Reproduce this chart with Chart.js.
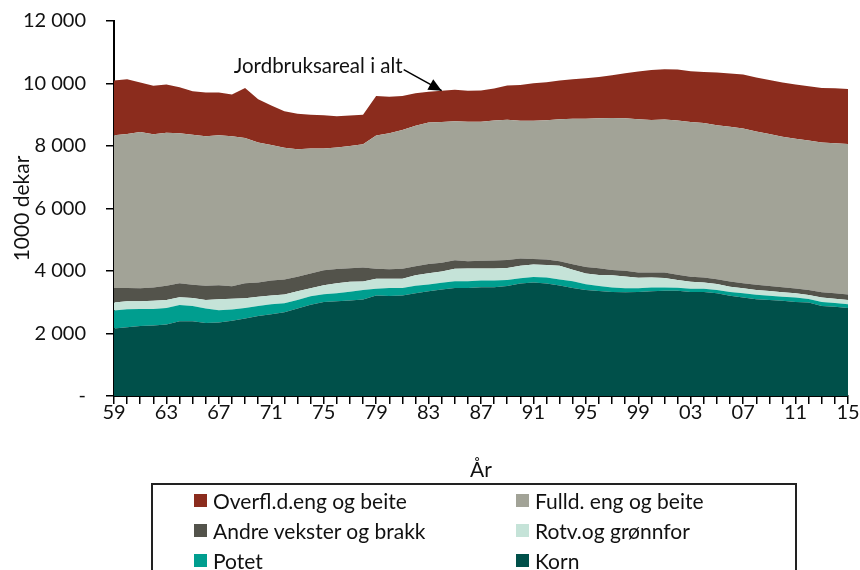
<!DOCTYPE html>
<html lang="no">
<head>
    <meta charset="UTF-8">
    <title>Jordbruksareal</title>
    <script src="https://cdn.jsdelivr.net/npm/chart.js"></script>
    <style>
        body {
            margin: 0;
            background: #ffffff;
            font-family: 'Lato', sans-serif;
        }

        .wrap {
            position: relative;
            width: 860px;
            height: 570px;
            overflow: hidden;
        }

        .legend {
            position: absolute;
            left: 151px;
            top: 483px;
            width: 646px;
            height: 120px;
            border: 2px solid #222;
            display: grid;
            grid-template-columns: 322px 320px;
            grid-auto-rows: 30px;
            padding-left: 41px;
            box-sizing: border-box;
        }

        .legend div {
            display: flex;
            align-items: center;
            font-size: 21px;
            color: #111;
        }

        .legend span {
            display: inline-block;
            width: 13px;
            height: 13px;
            margin-right: 6px;
        }
    </style>
</head>
<body>
    <div class="wrap">
        <canvas id="areaChart" width="860" height="570"></canvas>
        <div class="legend" id="legend"></div>
    </div>

    <script>
        const years = [];
        for (let y = 1959; y <= 2015; y++) years.push(y);

        const korn = [2160, 2200, 2240, 2260, 2290, 2390, 2390, 2340, 2350, 2410,
            2480, 2560, 2620, 2680, 2800, 2920, 3010, 3030, 3060, 3090,
            3220, 3200, 3220, 3290, 3350, 3410, 3460, 3460, 3480, 3480,
            3520, 3600, 3630, 3600, 3540, 3460, 3390, 3360, 3330, 3320,
            3330, 3350, 3370, 3370, 3330, 3330, 3290, 3210, 3150, 3100,
            3070, 3050, 3010, 2990, 2880, 2860, 2820];
        const potet = [575, 575, 545, 525, 525, 525, 490, 460, 395, 360,
            340, 320, 320, 290, 275, 275, 245, 255, 280, 300,
            215, 255, 235, 235, 215, 215, 215, 215, 215, 215,
            190, 170, 180, 190, 190, 215, 190, 160, 140, 130,
            115, 120, 105, 95, 105, 105, 105, 115, 140, 140,
            140, 130, 140, 115, 130, 115, 115];
        const rotv = [255, 255, 245, 265, 255, 245, 255, 275, 350, 340,
            310, 300, 275, 280, 275, 255, 290, 320, 320, 275,
            320, 300, 300, 340, 360, 360, 395, 405, 385, 385,
            385, 395, 395, 405, 440, 365, 340, 350, 395, 375,
            340, 320, 300, 245, 225, 200, 190, 170, 160, 150,
            150, 140, 140, 130, 140, 140, 140];
        const andre = [470, 425, 415, 425, 460, 450, 425, 450, 450, 405,
            480, 450, 480, 480, 470, 470, 480, 460, 425, 450,
            320, 300, 320, 290, 300, 280, 275, 235, 245, 255,
            255, 235, 180, 170, 140, 180, 205, 220, 170, 180,
            170, 160, 180, 170, 160, 160, 150, 170, 160, 170,
            160, 160, 150, 160, 170, 170, 170];
        const fulld = [4885, 4930, 5005, 4905, 4895, 4800, 4800, 4790, 4800, 4800,
            4650, 4480, 4340, 4215, 4075, 4000, 3895, 3885, 3915, 3945,
            4265, 4350, 4435, 4490, 4525, 4500, 4450, 4460, 4450, 4480,
            4490, 4405, 4425, 4460, 4545, 4650, 4745, 4795, 4865, 4885,
            4905, 4885, 4895, 4940, 4950, 4940, 4930, 4950, 4950, 4905,
            4865, 4820, 4790, 4780, 4790, 4800, 4820];
        const overfl = [1750, 1750, 1580, 1545, 1545, 1470, 1395, 1400, 1365, 1335,
            1600, 1385, 1260, 1165, 1140, 1080, 1065, 1000, 980, 940,
            1260, 1175, 1090, 1045, 990, 1005, 1005, 990, 1005, 1025,
            1100, 1150, 1195, 1215, 1240, 1270, 1300, 1325, 1365, 1440,
            1525, 1600, 1610, 1630, 1620, 1630, 1685, 1705, 1730, 1730,
            1730, 1730, 1740, 1740, 1750, 1760, 1760];

        const yTicks = [0, 2000, 4000, 6000, 8000, 10000, 12000];
        const noteText = 'Jordbruksareal i alt';
        const noteYear = 1984;

        // bottom to top
        const series = [
            { label: 'Korn', data: korn, color: '#00504a' },
            { label: 'Potet', data: potet, color: '#009e8f' },
            { label: 'Rotv.og grønnfor', data: rotv, color: '#c5e3d8' },
            { label: 'Andre vekster og brakk', data: andre, color: '#53534b' },
            { label: 'Fulld. eng og beite', data: fulld, color: '#a2a397' },
            { label: 'Overfl.d.eng og beite', data: overfl, color: '#8b2c1d' }
        ];

        const fmt = v => v === 0 ? '-' : String(v).replace(/\B(?=(\d{3})+(?!\d))/g, ' ');

        // arrow + text pointing at the total
        const notePlugin = {
            id: 'note',
            afterDatasetsDraw(chart) {
                const ctx = chart.ctx;
                const i = years.indexOf(noteYear);
                const total = series.reduce((s, d) => s + d.data[i], 0);
                const tx = chart.scales.x.getPixelForValue(i);
                const ty = chart.scales.y.getPixelForValue(total);
                const sx = tx - 38, sy = ty - 21;
                ctx.save();
                ctx.strokeStyle = '#000';
                ctx.fillStyle = '#000';
                ctx.lineWidth = 1.5;
                ctx.beginPath();
                ctx.moveTo(sx, sy);
                ctx.lineTo(tx, ty);
                ctx.stroke();
                const a = Math.atan2(ty - sy, tx - sx);
                ctx.beginPath();
                ctx.moveTo(tx, ty);
                ctx.lineTo(tx - 13 * Math.cos(a) + 6 * Math.sin(a), ty - 13 * Math.sin(a) - 6 * Math.cos(a));
                ctx.lineTo(tx - 13 * Math.cos(a) - 6 * Math.sin(a), ty - 13 * Math.sin(a) + 6 * Math.cos(a));
                ctx.closePath();
                ctx.fill();
                ctx.font = '20.5px Lato';
                ctx.textAlign = 'right';
                ctx.textBaseline = 'middle';
                ctx.fillStyle = '#111';
                ctx.fillText(noteText, sx - 1, sy - 3);
                ctx.restore();
            }
        };

        const ctx = document.getElementById('areaChart').getContext('2d');
        new Chart(ctx, {
            type: 'line',
            data: {
                labels: years,
                datasets: series.map((s, k) => ({
                    label: s.label,
                    data: s.data,
                    backgroundColor: s.color,
                    borderWidth: 0,
                    pointRadius: 0,
                    fill: k === 0 ? 'origin' : '-1'
                }))
            },
            options: {
                responsive: false,
                animation: false,
                layout: { padding: { left: 0, right: 12, top: 21, bottom: 87 } },
                plugins: {
                    legend: { display: false },
                    tooltip: { enabled: false }
                },
                scales: {
                    x: {
                        offset: false,
                        grid: { drawOnChartArea: false, color: '#000', tickLength: 8, lineWidth: 1.5 },
                        border: { color: '#000', width: 2 },
                        ticks: {
                            autoSkip: false,
                            maxRotation: 0,
                            padding: -3,
                            color: '#111',
                            font: { family: 'Lato', size: 20 },
                            callback: (v, i) => i % 4 === 0 ? String(years[i]).slice(2) : ''
                        },
                        title: {
                            display: true,
                            text: 'År',
                            color: '#111',
                            font: { family: 'Lato', size: 21 },
                            padding: 0
                        },
                        afterFit: s => { s.height = 87; }
                    },
                    y: {
                        stacked: true,
                        min: 0,
                        max: 12000,
                        grid: { drawOnChartArea: false, color: '#000', tickLength: 8, lineWidth: 1.5 },
                        border: { color: '#000', width: 2 },
                        afterBuildTicks: s => { s.ticks = yTicks.map(v => ({ value: v })); },
                        ticks: {
                            padding: 20,
                            color: '#111',
                            font: { family: 'Lato', size: 20 },
                            callback: v => fmt(v)
                        },
                        title: {
                            display: true,
                            text: '1000 dekar',
                            color: '#111',
                            font: { family: 'Lato', size: 21 },
                            padding: { top: 10, bottom: 0 }
                        },
                        afterFit: s => {
                            s.width = 114;
                            s.paddingTop = 0;
                            s.paddingBottom = 0;
                        }
                    }
                }
            },
            plugins: [notePlugin]
        });

        // legend: two columns, top layer first
        const legend = document.getElementById('legend');
        series.slice().reverse().forEach(s => {
            const item = document.createElement('div');
            item.innerHTML = '<span style="background:' + s.color + '"></span>' + s.label;
            legend.appendChild(item);
        });
    </script>
</body>
</html>
